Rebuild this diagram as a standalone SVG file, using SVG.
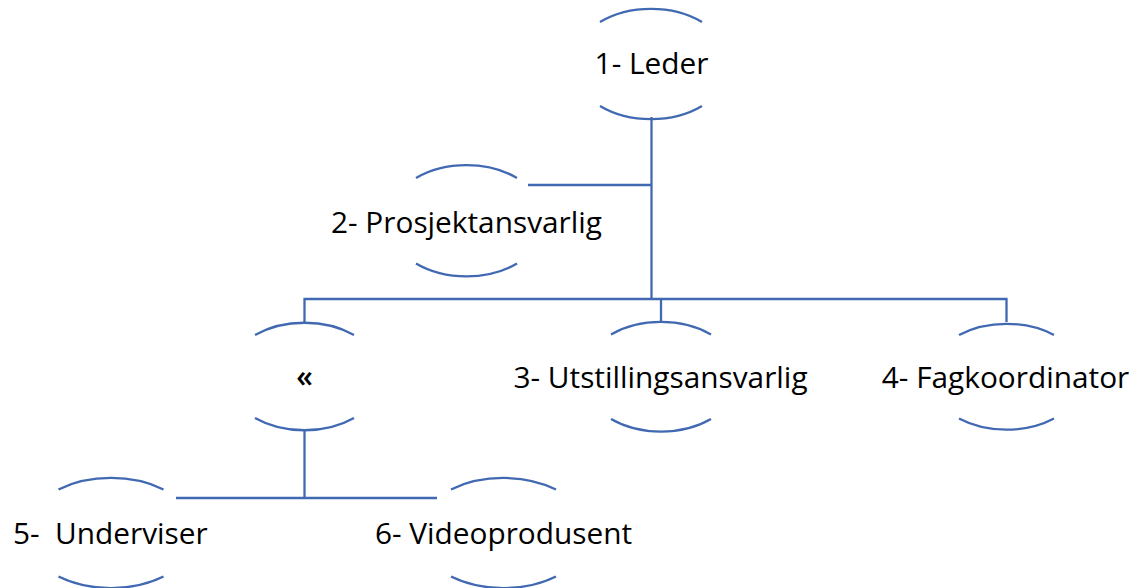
<svg xmlns="http://www.w3.org/2000/svg" width="1137" height="588" viewBox="0 0 1137 588">
<style>
.arc{fill:none;stroke:#4169B2;stroke-width:2.3}
.ln{fill:none;stroke:#4169B2;stroke-width:2.3}
.t{font-family:"Open Sans","Liberation Sans",sans-serif;font-size:29.8px;fill:#000;text-anchor:middle;white-space:pre}
</style>
<rect width="1137" height="588" fill="#fff"/>
<g id="connectors">
<path class="ln" d="M651.5 117V299"/>
<path class="ln" d="M528 185H651.5"/>
<path class="ln" d="M304.5 322V299H1006.5V322"/>
<path class="ln" d="M661 299V322"/>
<path class="ln" d="M304.5 430V498"/>
<path class="ln" d="M176 498H437"/>
</g>
<g id="n1">
<path class="arc" d="M600 22A78 54 0 0 1 702 22"/>
<path class="arc" d="M600 106A78 54 0 0 0 702 106"/>
<text class="t" x="651.5" y="73.5">1- Leder</text>
</g>
<g id="n2">
<path class="arc" d="M416 178A78 54 0 0 1 517 178"/>
<path class="arc" d="M416 263.5A78 54 0 0 0 517 263.5"/>
<text class="t" x="466.5" y="232.5">2- Prosjektansvarlig</text>
</g>
<g id="n0">
<path class="arc" d="M255 335A78 54 0 0 1 354 335"/>
<path class="arc" d="M255 418A78 54 0 0 0 354 418"/>
<text class="t" x="304.5" y="387" style="font-weight:600">«</text>
</g>
<g id="n3">
<path class="arc" d="M611 334.5A78 54 0 0 1 711 334.5"/>
<path class="arc" d="M611 419A78 54 0 0 0 711 419"/>
<text class="t" x="660.5" y="387.5">3- Utstillingsansvarlig</text>
</g>
<g id="n4">
<path class="arc" d="M959 335A78 54 0 0 1 1054 335"/>
<path class="arc" d="M959 418.5A78 54 0 0 0 1054 418.5"/>
<text class="t" x="1005.5" y="387.5">4- Fagkoordinator</text>
</g>
<g id="n5">
<path class="arc" d="M58.5 489.5A85 54 0 0 1 163.5 489.5"/>
<path class="arc" d="M58.5 576.5A85 54 0 0 0 163.5 576.5"/>
<text class="t" x="110.3" y="544">5-  Underviser</text>
</g>
<g id="n6">
<path class="arc" d="M451 489.5A85 54 0 0 1 556 489.5"/>
<path class="arc" d="M451 576.5A85 54 0 0 0 556 576.5"/>
<text class="t" x="503.5" y="544">6- Videoprodusent</text>
</g>
</svg>
